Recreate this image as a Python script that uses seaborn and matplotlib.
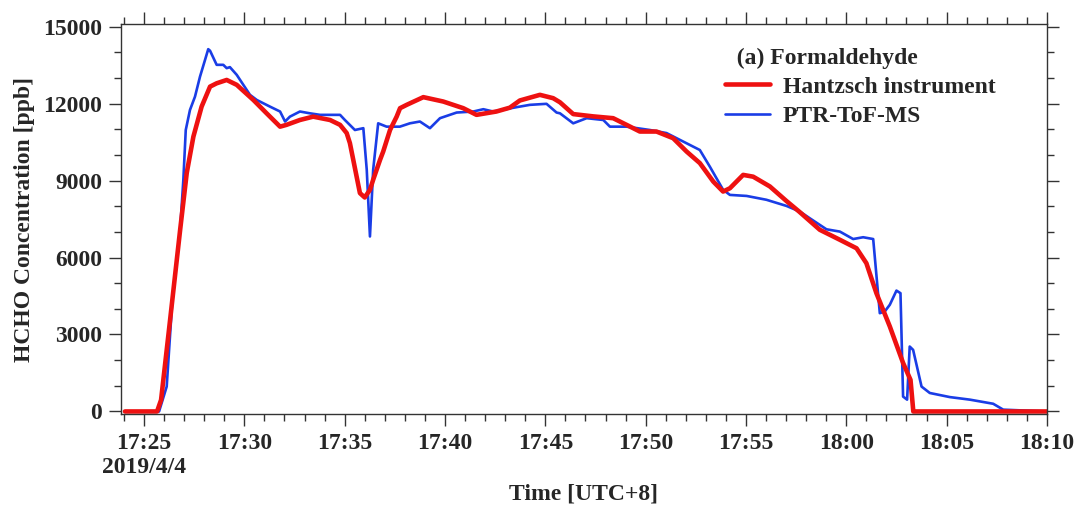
#!/usr/bin/env python3
## HCHO time series: Hantzsch vs PTR-ToF-MS, 2019/4/4

import matplotlib
matplotlib.use('Agg')
import numpy as np
import pandas as pd
import matplotlib.pyplot as plt
import matplotlib.dates as mdates
import matplotlib.ticker as mticker
import seaborn as sns

## time in minutes after 17:00, concentration in ppb
hantzsch_min = [24.05, 25.65, 25.85, 26.3, 26.8, 27.13, 27.46, 27.87, 28.29, 28.62,
                29.12, 29.62, 30.45, 31.11, 31.78, 32.1, 32.77, 33.43, 34.27, 34.77,
                35.1, 35.26, 35.43, 35.76, 36.0, 36.26, 36.42, 36.76, 36.92, 37.26,
                37.59, 37.76, 38.09, 38.92, 39.91, 40.91, 41.57, 42.56, 43.23, 43.73,
                44.73, 45.39, 45.73, 46.39, 47.39, 48.38, 49.05, 49.71, 50.54, 51.37,
                52.04, 52.7, 53.37, 53.86, 54.2, 54.86, 55.36, 56.19, 57.02, 57.65,
                58.68, 59.68, 60.51, 61.0, 61.5, 62.17, 62.83, 63.2, 63.34, 70.0]
hantzsch_ppb = [0, 0, 450, 3570, 7080, 9300, 10710, 11880, 12660, 12790,
                12920, 12730, 12140, 11620, 11100, 11170, 11360, 11490, 11360, 11170,
                10850, 10460, 9800, 8510, 8340, 8640, 9030, 9800, 10130, 10970,
                11490, 11820, 11950, 12250, 12080, 11820, 11560, 11690, 11840, 12120,
                12340, 12210, 12050, 11590, 11500, 11430, 11170, 10910, 10910, 10650,
                10130, 9680, 8960, 8570, 8700, 9220, 9150, 8770, 8200, 7790,
                7080, 6690, 6360, 5780, 4610, 3310, 1890, 1230, 0, 0]

ptr_min = [24.05, 25.75, 26.13, 26.4, 26.8, 26.96, 27.08, 27.29, 27.54, 27.79,
           28.04, 28.2, 28.29, 28.62, 28.95, 29.12, 29.28, 29.62, 29.95, 30.28,
           30.62, 30.95, 31.28, 31.78, 32.03, 32.27, 32.77, 33.27, 33.77, 34.27,
           34.77, 35.01, 35.51, 35.93, 36.1, 36.26, 36.42, 36.67, 37.09, 37.75,
           38.25, 38.75, 39.25, 39.75, 40.58, 41.41, 41.91, 42.4, 43.57, 44.23,
           45.06, 45.56, 45.73, 46.39, 47.06, 47.89, 48.22, 49.05, 50.21, 51.04,
           51.87, 52.7, 53.2, 53.86, 54.2, 55.03, 56.02, 57.02, 57.69, 58.18,
           59.01, 59.68, 60.34, 60.84, 61.34, 61.67, 61.92, 62.17, 62.5, 62.7,
           62.83, 63.03, 63.16, 63.33, 63.75, 64.16, 65.16, 66.16, 67.32, 67.82,
           70.0]
ptr_ppb = [0, 0, 970, 4200, 7080, 9030, 10970, 11750, 12270, 13050,
           13700, 14120, 14060, 13510, 13510, 13380, 13420, 13120, 12730, 12340,
           12140, 12010, 11880, 11690, 11300, 11490, 11690, 11620, 11560, 11560,
           11560, 11360, 10970, 11040, 9420, 6820, 9420, 11230, 11100, 11100,
           11230, 11300, 11040, 11430, 11650, 11690, 11780, 11690, 11860, 11950,
           11990, 11650, 11620, 11230, 11430, 11360, 11100, 11100, 10970, 10850,
           10520, 10190, 9540, 8640, 8440, 8400, 8250, 8010, 7790, 7530,
           7100, 7010, 6720, 6790, 6720, 3830, 3900, 4160, 4710, 4610,
           580, 460, 2530, 2400, 970, 720, 560, 460, 300, 70,
           0]

base = pd.Timestamp('2019-04-04 17:00')

def to_df(mins, vals):
  return pd.DataFrame({'time': base + pd.to_timedelta(mins, unit='m'),
                       'ppb': vals})

df_h = to_df(hantzsch_min, hantzsch_ppb)
df_p = to_df(ptr_min, ptr_ppb)

################################################
sns.set_style('ticks')
plt.rcParams['font.family'] = ['Liberation Serif', 'DejaVu Serif']
plt.rcParams['font.weight'] = 'bold'
plt.rcParams['axes.labelweight'] = 'bold'
plt.rcParams['font.size'] = 17

fig = plt.figure(figsize=(10.77, 5.08), dpi=100)
ax = fig.add_axes([0.1123, 0.185, 0.8598, 0.7677])

## blue first so the red line sits on top
sns.lineplot(data=df_p, x='time', y='ppb', ax=ax, color='#1a3de6',
             lw=1.9, label='PTR-ToF-MS')
sns.lineplot(data=df_h, x='time', y='ppb', ax=ax, color='#ee1111',
             lw=3.3, label='Hantzsch instrument')

ax.set_xlim(base + pd.Timedelta(minutes=23.85), base + pd.Timedelta(minutes=70))
ax.set_ylim(-100, 15100)

ax.xaxis.set_major_locator(mdates.MinuteLocator(byminute=range(0, 60, 5)))
ax.xaxis.set_minor_locator(mdates.MinuteLocator())

def fmt_time(x, pos):
  tot = int(round(x * 1440)) % 1440
  h, m = divmod(tot, 60)
  s = '%d:%02d' % (h, m)
  if h == 17 and m == 25:
    s += '\n2019/4/4'
  return s

ax.xaxis.set_major_formatter(mticker.FuncFormatter(fmt_time))
ax.yaxis.set_major_locator(mticker.MultipleLocator(3000))
ax.yaxis.set_minor_locator(mticker.MultipleLocator(1000))

ax.tick_params(which='both', direction='out', top=True, right=True,
               color='#333333', width=1.0)
ax.tick_params(which='major', length=8.5, pad=5)
ax.tick_params(which='minor', length=5)
for s in ax.spines.values():
  s.set_color('#333333')
  s.set_linewidth(1.0)

ax.set_xlabel('Time [UTC+8]', labelpad=4)
ax.set_ylabel('HCHO Concentration [ppb]', labelpad=6)

## legend: red listed first
handles, labels = ax.get_legend_handles_labels()
leg = ax.legend(handles[::-1], labels[::-1], title='  (a) Formaldehyde',
                loc='upper left', bbox_to_anchor=(0.652, 0.94),
                frameon=False, borderaxespad=0, borderpad=0,
                handlelength=1.9, handletextpad=0.55, labelspacing=0.32,
                alignment='left', prop={'weight': 'bold', 'size': 17},
                title_fontproperties={'weight': 'bold', 'size': 17})

plt.savefig('out.png', dpi=100)
